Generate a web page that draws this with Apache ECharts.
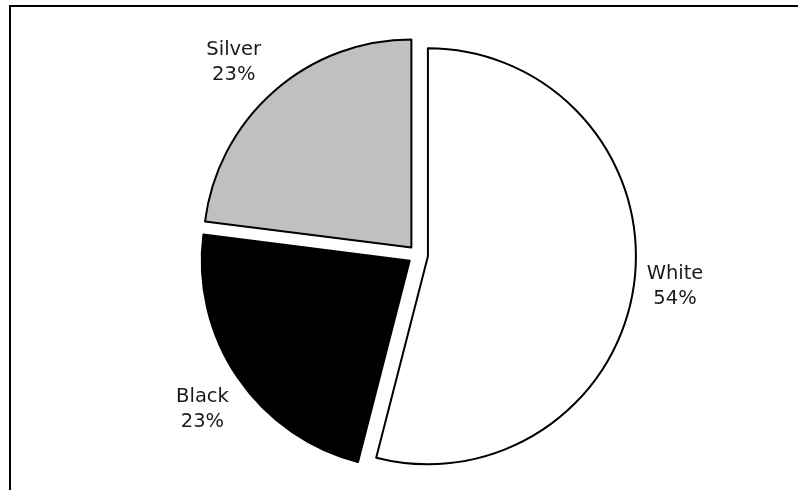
<!DOCTYPE html>
<html>
<head>
<meta charset="utf-8">
<script src="https://cdn.jsdelivr.net/npm/echarts@6/dist/echarts.min.js"></script>
<style>
html,body{margin:0;padding:0;background:#fff;}
#chart{width:798px;height:490px;}
</style>
</head>
<body>
<div id="chart"></div>
<script>
const categories = ['White', 'Black', 'Silver'];
const values = [54, 23, 23];
const sliceColors = ['#ffffff', '#000000', '#c0c0c0'];
const labelLengths = [36, 45, 47];
const labelShifts = [[0, 0], [7, 7], [-4, 6]];

const chart = echarts.init(document.getElementById('chart'), null, {renderer: 'canvas'});

const data = categories.map((name, i) => ({
  name: name,
  value: values[i],
  selected: true,
  itemStyle: { color: sliceColors[i] },
  select: { itemStyle: { color: sliceColors[i], borderColor: '#000', borderWidth: 2 } },
  labelLine: { show: false, length: labelLengths[i], length2: 0 }
}));

chart.setOption({
  animation: false,
  backgroundColor: '#ffffff',
  graphic: [{
    type: 'rect',
    shape: { x: 10, y: 6, width: 820, height: 520 },
    style: { fill: 'none', stroke: '#000', lineWidth: 2 },
    silent: true
  }],
  series: [{
    type: 'pie',
    center: [418, 255],
    radius: 208,
    startAngle: 90,
    clockwise: true,
    selectedMode: 'multiple',
    selectedOffset: 10,
    avoidLabelOverlap: false,
    itemStyle: { borderColor: '#000', borderWidth: 2 },
    emphasis: { disabled: true },
    label: {
      show: true,
      position: 'outside',
      formatter: '{b}\n{d}%',
      fontFamily: 'DejaVu Sans',
      fontSize: 19.5,
      lineHeight: 25,
      color: '#1a1a1a',
      align: 'center'
    },
    labelLayout: function (params) {
      const s = labelShifts[params.dataIndex];
      return { align: 'center', verticalAlign: 'middle', dx: s[0], dy: s[1] };
    },
    labelLine: { show: false },
    data: data
  }]
});
</script>
</body>
</html>
